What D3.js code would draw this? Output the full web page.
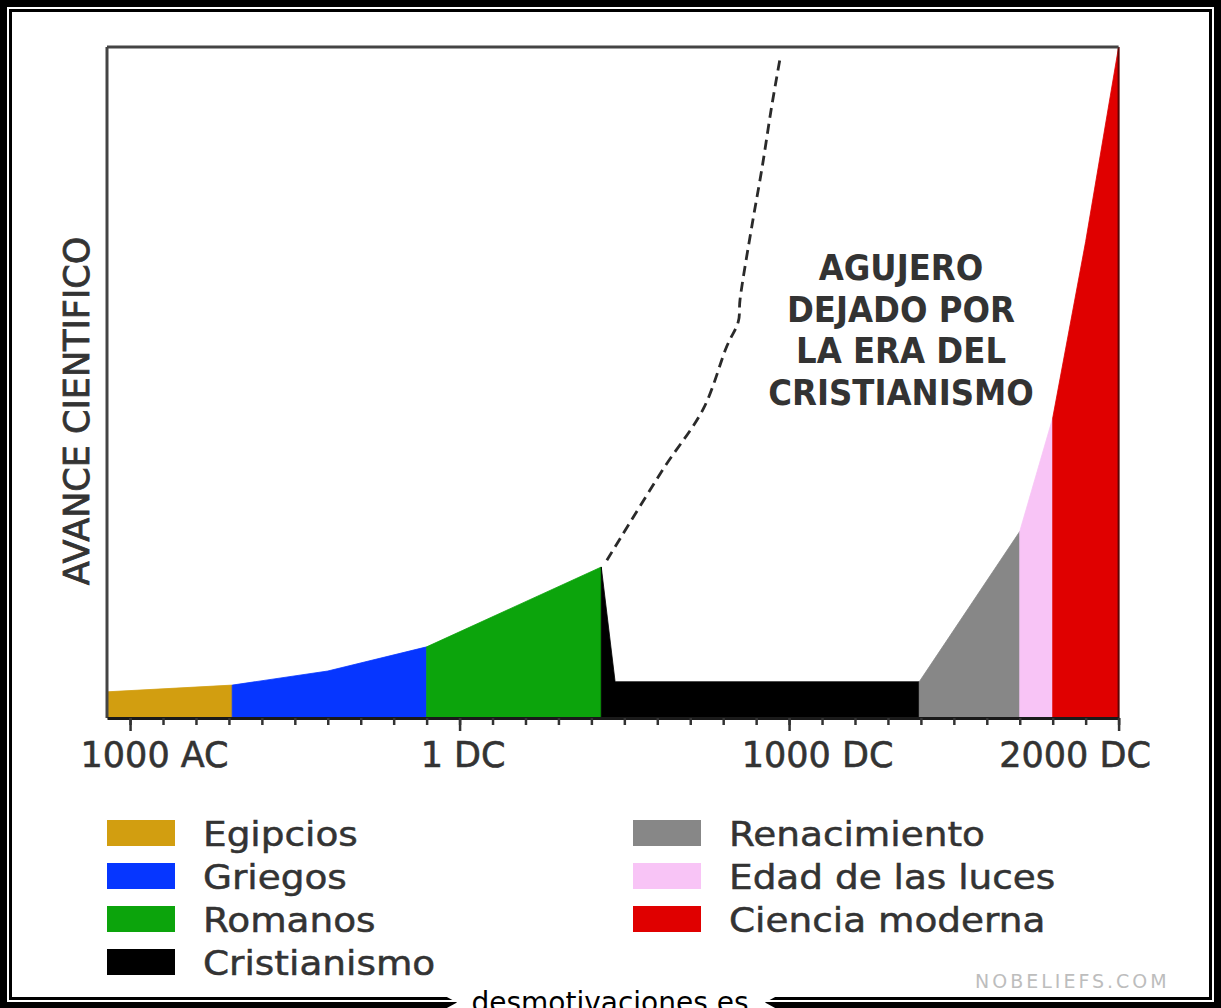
<!DOCTYPE html>
<html>
<head>
<meta charset="utf-8">
<script src="https://cdn.jsdelivr.net/npm/d3@7"></script>
<style>
  html, body { margin: 0; padding: 0; background: #000; }
  svg { display: block; }
  text { font-family: "DejaVu Sans", Verdana, sans-serif; fill: #333; }
</style>
</head>
<body>
<div id="grafico"></div>
<script>
// datos (anos: negativo = AC)
const eras = ["Egipcios", "Griegos", "Romanos", "Cristianismo", "Renacimiento", "Edad de las luces", "Ciencia moderna"];
const colores = ["#d29e10", "#0636ff", "#0ca40c", "#000000", "#878787", "#f8c4f6", "#e00000"];
const anosEra = [
  [-1070, -690],
  [-690, -400, -100],
  [-100, 430],
  [430, 472, 1395],
  [1395, 1700],
  [1700, 1800],
  [1800, 1900, 2000]
];
const avanceEra = [
  [3.9, 4.9],
  [4.9, 7.0, 10.6],
  [10.6, 22.5],
  [22.5, 5.4, 5.4],
  [5.4, 27.8],
  [27.8, 44.7],
  [44.7, 71, 100]
];

// linea discontinua: lo que podria haber sido
const anosHipotesis = [447, 618, 740, 811, 846, 851, 887, 917, 947, 973];
const avanceHipotesis = [23.5, 37.1, 46.1, 55.4, 59.1, 62.3, 73.3, 81.7, 91.1, 98.4];

const anosTicks = [-1000, 0, 1000, 2000];
const etiquetasTicks = ["1000 AC", "1 DC", "1000 DC", "2000 DC"];
const anosTicksMenores = [-1000, -900, -800, -700, -600, -500, -400, -300, -200, -100,
  0, 100, 200, 300, 400, 500, 600, 700, 800, 900,
  1000, 1100, 1200, 1300, 1400, 1500, 1600, 1700, 1800, 1900, 2000];

const textoAgujero = ["AGUJERO", "DEJADO POR", "LA ERA DEL", "CRISTIANISMO"];
const tituloY = "AVANCE CIENTIFICO";

const width = 1221, height = 1008;
const svg = d3.select("#grafico")
  .append("svg")
  .attr("width", width)
  .attr("height", height);

// marco
svg.append("rect").attr("width", width).attr("height", height).attr("fill", "#000");
svg.append("rect").attr("x", 7).attr("y", 7).attr("width", 1207).attr("height", 995).attr("fill", "#fff");
svg.append("rect").attr("x", 10.5).attr("y", 10.5).attr("width", 1200).attr("height", 988)
  .attr("fill", "none").attr("stroke", "#000").attr("stroke-width", 3);
svg.append("polygon")
  .attr("points", "445,996 457,1002.5 445,1009 777,1009 765,1002.5 777,996")
  .attr("fill", "#fff");
svg.append("text")
  .attr("x", 610).attr("y", 1012)
  .attr("text-anchor", "middle")
  .style("font-size", "28px")
  .style("fill", "#000")
  .text("desmotivaciones.es");
svg.append("text")
  .attr("x", 975).attr("y", 988)
  .style("font-size", "19px")
  .style("letter-spacing", "3px")
  .style("fill", "#bdbdbd")
  .text("NOBELIEFS.COM");

const x = d3.scaleLinear().domain([-1070, 2000]).range([107, 1118.6]);
const y = d3.scaleLinear().domain([0, 100]).range([718, 47]);

const area = d3.area()
  .x(d => x(d.ano))
  .y0(y(0))
  .y1(d => y(d.avance));

eras.forEach((nombre, i) => {
  const puntos = anosEra[i].map((a, j) => ({ ano: a, avance: avanceEra[i][j] }));
  svg.append("path")
    .datum(puntos)
    .attr("d", area)
    .attr("fill", colores[i])
    .attr("stroke", colores[i])
    .attr("stroke-width", 0.8);
});

// borde oscuro a la derecha del rojo
svg.append("line")
  .attr("x1", x(2000)).attr("x2", x(2000))
  .attr("y1", y(0)).attr("y2", y(100))
  .attr("stroke", "#5a0505").attr("stroke-width", 2);

// linea discontinua
const linea = d3.line()
  .x(d => x(d.ano))
  .y(d => y(d.avance))
  .curve(d3.curveCatmullRom.alpha(0.5));
svg.append("path")
  .datum(anosHipotesis.map((a, i) => ({ ano: a, avance: avanceHipotesis[i] })))
  .attr("d", linea)
  .attr("fill", "none")
  .attr("stroke", "#2a2a2a")
  .attr("stroke-width", 2.8)
  .attr("stroke-dasharray", "10,6");

// bordes superior e izquierdo
svg.append("line")
  .attr("x1", x(-1070)).attr("x2", x(2000))
  .attr("y1", y(100)).attr("y2", y(100))
  .attr("stroke", "#444").attr("stroke-width", 3);
svg.append("line")
  .attr("x1", x(-1070)).attr("x2", x(-1070))
  .attr("y1", y(0)).attr("y2", y(100))
  .attr("stroke", "#444").attr("stroke-width", 3);

// eje x
const ejeMenor = svg.append("g")
  .attr("transform", `translate(0,${y(0)})`)
  .call(d3.axisBottom(x).tickValues(anosTicksMenores).tickSize(7).tickSizeOuter(0).tickFormat(""));
ejeMenor.select(".domain").attr("stroke", "#1a1a1a").attr("stroke-width", 3);
ejeMenor.selectAll(".tick line").attr("stroke", "#333").attr("stroke-width", 2.5);

const desplazamiento = [24, 3, 28, -44];
const ejeMayor = svg.append("g")
  .attr("transform", `translate(0,${y(0)})`)
  .call(d3.axisBottom(x).tickValues(anosTicks).tickSize(13).tickFormat((d, i) => etiquetasTicks[i]));
ejeMayor.select(".domain").remove();
ejeMayor.selectAll(".tick line").attr("stroke", "#333").attr("stroke-width", 2.5);
ejeMayor.selectAll(".tick text")
  .attr("y", 49)
  .attr("dy", 0)
  .attr("dx", (d, i) => desplazamiento[i])
  .attr("fill", "#333")
  .attr("stroke", "#333")
  .attr("stroke-width", 0.6)
  .style("font-family", "'DejaVu Sans', sans-serif")
  .style("font-size", "35px");

// titulo eje y
svg.append("text")
  .attr("transform", "rotate(-90)")
  .attr("x", -411)
  .attr("y", 89)
  .attr("text-anchor", "middle")
  .attr("stroke", "#333")
  .attr("stroke-width", 0.8)
  .style("font-size", "35px")
  .text(tituloY);

// anotacion
textoAgujero.forEach((t, i) => {
  svg.append("text")
    .attr("transform", `translate(901,${280 + i * 41.7}) scale(0.9,1)`)
    .attr("text-anchor", "middle")
    .style("font-size", "36px")
    .style("font-weight", "bold")
    .text(t);
});

// leyenda
const filas = [820, 863, 906, 949];
eras.forEach((nombre, i) => {
  const col = i < 4 ? 107 : 633;
  const fila = i < 4 ? i : i - 4;
  const g = svg.append("g").attr("transform", `translate(${col},${filas[fila]})`);
  g.append("rect")
    .attr("width", 68).attr("height", 26)
    .attr("fill", colores[i]);
  g.append("text")
    .attr("transform", "translate(96,26) scale(1.1,1)")
    .attr("stroke", "#333")
    .attr("stroke-width", 0.5)
    .style("font-size", "34px")
    .text(nombre);
});
</script>
</body>
</html>
